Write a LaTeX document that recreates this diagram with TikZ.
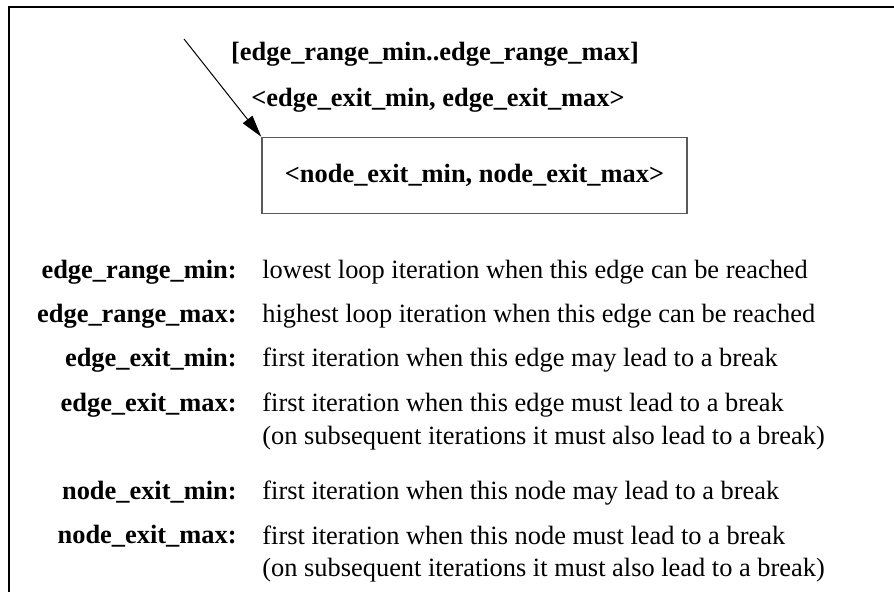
\documentclass[tikz,border=0pt]{standalone}
\usepackage{fontspec}
\setmainfont{Liberation Serif}
\usetikzlibrary{positioning}
\usetikzlibrary{arrows.meta}

\begin{document}
\begin{tikzpicture}[x=0.5pt, y=-0.5pt,
  every node/.style={inner sep=0pt, font=\fontsize{13.2}{16.5}\selectfont},
  keytext/.style={font=\bfseries\fontsize{13.2}{16.5}\selectfont, anchor=base east},
  desctext/.style={anchor=base west, align=left},
  toplabel/.style={font=\bfseries\fontsize{13.2}{16.5}\selectfont, anchor=base},
  blockbox/.style={draw=black!65, line width=0.75pt, minimum width=212.5pt, minimum height=38pt, font=\bfseries\fontsize{13.2}{16.5}\selectfont}]
\useasboundingbox (0,0) rectangle (894,592);
\draw[line width=1pt] (9,592) -- (9,7) -- (894,7);

\node[blockbox] (blk) at (474.5,175.5) {<node\_exit\_min, node\_exit\_max>};
\coordinate (src) at (184,39);
\draw[-{Triangle[length=11pt,width=6pt]}, line width=0.5pt] (src) -- (blk.north west);
\node[toplabel] (range) at (435,61) {[edge\_range\_min..edge\_range\_max]};
\node[toplabel] (exits) at (438,107) {<edge\_exit\_min, edge\_exit\_max>};

% base of a two-line text is its last line
\node[keytext] (k1) at (237,279) {edge\_range\_min:};
\node[desctext] (d1) at (262,279) {lowest loop iteration when this edge can be reached};
\node[keytext] (k2) at (237,323) {edge\_range\_max:};
\node[desctext] (d2) at (262,323) {highest loop iteration when this edge can be reached};
\node[keytext] (k3) at (237,367) {edge\_exit\_min:};
\node[desctext] (d3) at (262,367) {first iteration when this edge may lead to a break};
\node[keytext] (k4) at (237,412) {edge\_exit\_max:};
\node[desctext] (d4) at (262,445) {first iteration when this edge must lead to a break\\(on subsequent iterations it must also lead to a break)};

\node[keytext] (k5) at (237,500) {node\_exit\_min:};
\node[desctext] (d5) at (262,500) {first iteration when this node may lead to a break};
\node[keytext] (k6) at (237,544) {node\_exit\_max:};
\node[desctext] (d6) at (262,577) {first iteration when this node must lead to a break\\(on subsequent iterations it must also lead to a break)};
\end{tikzpicture}
\end{document}
